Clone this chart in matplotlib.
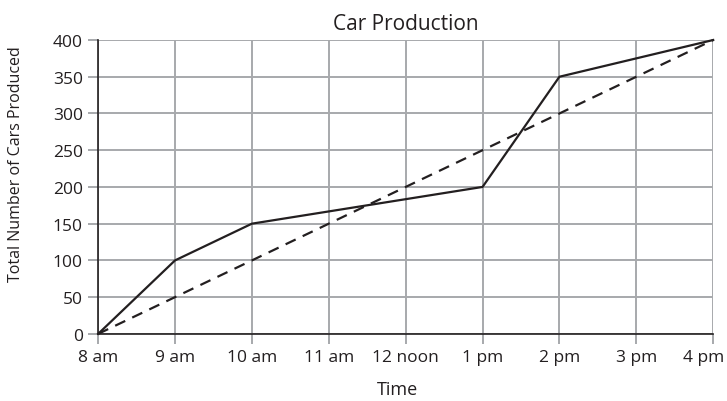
import numpy as np
from matplotlib import pyplot as plt
from matplotlib.transforms import ScaledTranslation

plt.rcParams['font.family'] = ['Open Sans', 'DejaVu Sans']

hours = [0, 1, 2, 3, 4, 5, 6, 7, 8]
hour_labels = ["8 am", "9 am", "10 am", "11 am", "12 noon", "1 pm", "2 pm", "3 pm", "4 pm"]

# actual production
actual_x = [0, 1, 2, 5, 6, 8]
actual_y = [0, 100, 150, 200, 350, 400]

# steady-rate target
target_x = [0, 8]
target_y = [0, 400]

ink = "#231f20"
grid_col = "#a7a9ac"

fig = plt.figure(figsize=(7.27, 4.02), dpi=100)
ax = fig.add_axes([0.135, 0.167, 0.846, 0.731])

ax.plot(actual_x, actual_y, color=ink, linewidth=1.6, clip_on=False, zorder=3)
ax.plot(target_x, target_y, color=ink, linewidth=1.6, linestyle=(0, (5, 3.5)), clip_on=False, zorder=3)

ax.set_xlim(0, 8)
ax.set_ylim(0, 400)
ax.set_xticks(hours)
ax.set_xticklabels(hour_labels)
ax.set_yticks(np.arange(0, 401, 50))

ax.grid(True, color=grid_col, linewidth=1.4)
ax.set_axisbelow(True)
for side in ["top", "right"]:
    ax.spines[side].set_visible(False)
for side in ["left", "bottom"]:
    ax.spines[side].set_color(ink)
    ax.spines[side].set_linewidth(1.2)
ax.tick_params(axis="both", colors=grid_col, labelcolor=ink, labelsize=12.5, length=7, width=1.4, pad=4)

# last label sits pulled in from the right edge
last = ax.get_xticklabels()[-1]
last.set_transform(last.get_transform() + ScaledTranslation(-7 / 72, 0, fig.dpi_scale_trans))

ax.set_title("Car Production", fontsize=15, color=ink, pad=8)
ax.set_xlabel("Time", fontsize=13, color=ink)
ax.xaxis.set_label_coords(0.487, -0.158)
ax.set_ylabel("Total Number of Cars Produced", fontsize=11.5, color=ink)
ax.yaxis.set_label_coords(-0.12, 0.58)

plt.savefig("out.png", dpi=100)
